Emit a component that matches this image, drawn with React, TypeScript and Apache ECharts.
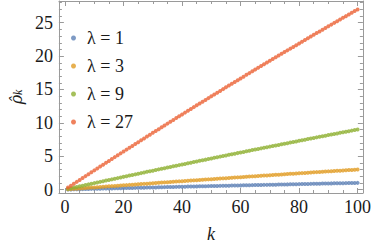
import React, { useEffect, useRef } from "react";
import * as echarts from "echarts";

const seriesNames = ["λ = 1", "λ = 3", "λ = 9", "λ = 27"];
const seriesColors = ["#5E81B5", "#E19C24", "#8FB032", "#EB6235"];

// rho_k for k = 1..100
const lambda1 = [
  0.01, 0.02, 0.03, 0.04, 0.05, 0.06, 0.07, 0.09, 0.10, 0.11,
  0.12, 0.13, 0.14, 0.15, 0.16, 0.17, 0.18, 0.19, 0.20, 0.21,
  0.22, 0.23, 0.24, 0.25, 0.26, 0.27, 0.28, 0.29, 0.30, 0.31,
  0.32, 0.34, 0.35, 0.36, 0.37, 0.38, 0.39, 0.40, 0.41, 0.42,
  0.43, 0.44, 0.45, 0.46, 0.47, 0.48, 0.49, 0.50, 0.51, 0.52,
  0.53, 0.54, 0.55, 0.56, 0.57, 0.58, 0.59, 0.60, 0.61, 0.62,
  0.63, 0.64, 0.65, 0.66, 0.67, 0.68, 0.69, 0.70, 0.70, 0.71,
  0.72, 0.73, 0.74, 0.75, 0.76, 0.77, 0.78, 0.79, 0.80, 0.81,
  0.82, 0.83, 0.84, 0.85, 0.86, 0.87, 0.88, 0.89, 0.90, 0.91,
  0.92, 0.93, 0.93, 0.94, 0.95, 0.96, 0.97, 0.98, 0.99, 1.00,
];
const lambda3 = [
  0.03, 0.06, 0.10, 0.13, 0.16, 0.19, 0.22, 0.26, 0.29, 0.32,
  0.35, 0.38, 0.41, 0.45, 0.48, 0.51, 0.54, 0.57, 0.60, 0.63,
  0.66, 0.70, 0.73, 0.76, 0.79, 0.82, 0.85, 0.88, 0.91, 0.94,
  0.97, 1.01, 1.04, 1.07, 1.10, 1.13, 1.16, 1.19, 1.22, 1.25,
  1.28, 1.31, 1.34, 1.37, 1.40, 1.43, 1.46, 1.49, 1.52, 1.55,
  1.58, 1.61, 1.64, 1.67, 1.70, 1.73, 1.76, 1.79, 1.82, 1.85,
  1.88, 1.91, 1.94, 1.97, 2.00, 2.03, 2.06, 2.09, 2.11, 2.14,
  2.17, 2.20, 2.23, 2.26, 2.29, 2.32, 2.35, 2.38, 2.40, 2.43,
  2.46, 2.49, 2.52, 2.55, 2.58, 2.61, 2.63, 2.66, 2.69, 2.72,
  2.75, 2.78, 2.80, 2.83, 2.86, 2.89, 2.92, 2.94, 2.97, 3.00,
];
const lambda9 = [
  0.10, 0.19, 0.29, 0.38, 0.48, 0.58, 0.67, 0.77, 0.86, 0.96,
  1.05, 1.15, 1.24, 1.34, 1.43, 1.52, 1.62, 1.71, 1.81, 1.90,
  1.99, 2.09, 2.18, 2.27, 2.37, 2.46, 2.55, 2.65, 2.74, 2.83,
  2.92, 3.02, 3.11, 3.20, 3.29, 3.39, 3.48, 3.57, 3.66, 3.75,
  3.84, 3.93, 4.02, 4.12, 4.21, 4.30, 4.39, 4.48, 4.57, 4.66,
  4.75, 4.84, 4.93, 5.02, 5.11, 5.20, 5.28, 5.37, 5.46, 5.55,
  5.64, 5.73, 5.82, 5.91, 5.99, 6.08, 6.17, 6.26, 6.34, 6.43,
  6.52, 6.61, 6.69, 6.78, 6.87, 6.95, 7.04, 7.13, 7.21, 7.30,
  7.39, 7.47, 7.56, 7.64, 7.73, 7.82, 7.90, 7.99, 8.07, 8.16,
  8.24, 8.33, 8.41, 8.50, 8.58, 8.66, 8.75, 8.83, 8.92, 9.00,
];
const lambda27 = [
  0.29, 0.58, 0.87, 1.15, 1.44, 1.73, 2.01, 2.30, 2.58, 2.87,
  3.16, 3.44, 3.72, 4.01, 4.29, 4.57, 4.86, 5.14, 5.42, 5.70,
  5.98, 6.26, 6.54, 6.82, 7.10, 7.38, 7.66, 7.94, 8.22, 8.50,
  8.77, 9.05, 9.33, 9.60, 9.88, 10.16, 10.43, 10.71, 10.98, 11.25,
  11.53, 11.80, 12.07, 12.35, 12.62, 12.89, 13.16, 13.43, 13.70, 13.97,
  14.24, 14.51, 14.78, 15.05, 15.32, 15.59, 15.85, 16.12, 16.39, 16.65,
  16.92, 17.19, 17.45, 17.72, 17.98, 18.24, 18.51, 18.77, 19.03, 19.30,
  19.56, 19.82, 20.08, 20.34, 20.60, 20.86, 21.12, 21.38, 21.64, 21.90,
  22.16, 22.42, 22.68, 22.93, 23.19, 23.45, 23.70, 23.96, 24.22, 24.47,
  24.72, 24.98, 25.23, 25.49, 25.74, 25.99, 26.25, 26.50, 26.75, 27.00,
];
const seriesValues = [lambda1, lambda3, lambda9, lambda27];

const xMajorTicks = [0, 20, 40, 60, 80, 100];
const xMinorTicks = [5, 10, 15, 25, 30, 35, 45, 50, 55, 65, 70, 75, 85, 90, 95];
const yMajorTicks = [0, 5, 10, 15, 20, 25];
const yMinorTicks = [1, 2, 3, 4, 6, 7, 8, 9, 11, 12, 13, 14, 16, 17, 18, 19, 21, 22, 23, 24, 26, 27, 28];

const X_MIN = -2.1;
const X_MAX = 101.8;
const Y_MIN = -0.52;
const Y_MAX = 28.26;

const FONT = "Liberation Serif";
const FRAME = "#9a9a9a";
const TEXT = "#1a1a1a";

export default function App() {
  const ref = useRef<HTMLDivElement>(null);
  useEffect(() => {
    if (!ref.current) return;
    const chart = echarts.init(ref.current, undefined, { renderer: "svg" });

    const xAxisBase = (position: "bottom" | "top", ticks: number[], len: number, showLine: boolean, labels: boolean) => ({
      type: "value",
      gridIndex: 0,
      position,
      min: X_MIN,
      max: X_MAX,
      axisLine: { show: showLine, onZero: false, lineStyle: { color: FRAME, width: 1 } },
      axisTick: { show: true, inside: true, length: len, customValues: ticks, lineStyle: { color: FRAME, width: 1 } },
      axisLabel: labels
        ? { show: true, customValues: ticks, fontFamily: FONT, fontSize: 18, color: TEXT, margin: 5 }
        : { show: false },
      splitLine: { show: false },
    });
    const yAxisBase = (position: "left" | "right", ticks: number[], len: number, showLine: boolean, labels: boolean) => ({
      type: "value",
      gridIndex: 0,
      position,
      min: Y_MIN,
      max: Y_MAX,
      axisLine: { show: showLine, onZero: false, lineStyle: { color: FRAME, width: 1 } },
      axisTick: { show: true, inside: true, length: len, customValues: ticks, lineStyle: { color: FRAME, width: 1 } },
      axisLabel: labels
        ? { show: true, customValues: ticks, fontFamily: FONT, fontSize: 18, color: TEXT, margin: 6 }
        : { show: false },
      splitLine: { show: false },
    });

    const xMain: any = xAxisBase("bottom", xMajorTicks, 5, true, true);
    xMain.name = "k";
    xMain.nameLocation = "middle";
    xMain.nameGap = 32;
    xMain.nameTextStyle = { fontFamily: FONT, fontSize: 18, fontStyle: "italic", color: TEXT };

    const yMain: any = yAxisBase("left", yMajorTicks, 5, true, true);
    yMain.name = "{a|ρ\u0302}{b|k}";
    yMain.nameLocation = "middle";
    yMain.nameRotate = 90;
    yMain.nameGap = 30;
    yMain.nameTextStyle = {
      color: TEXT,
      fontFamily: FONT,
      rich: {
        a: { fontFamily: "DejaVu Serif", fontSize: 16, fontStyle: "italic", color: TEXT, verticalAlign: "bottom", lineHeight: 20 },
        b: { fontFamily: FONT, fontSize: 12, fontStyle: "italic", color: TEXT, verticalAlign: "bottom", lineHeight: 14 },
      },
    };

    chart.setOption({
      animation: false,
      backgroundColor: "#ffffff",
      textStyle: { fontFamily: FONT },
      grid: { left: 52, right: 9, top: 1, bottom: 57, containLabel: false },
      legend: {
        orient: "vertical",
        left: 66,
        top: 24,
        icon: "circle",
        itemWidth: 5,
        itemHeight: 5,
        itemGap: 10,
        data: seriesNames,
        textStyle: { fontFamily: FONT, fontSize: 18, lineHeight: 18, color: TEXT, padding: [0, 0, 0, 6] },
      },
      xAxis: [
        xMain,
        xAxisBase("bottom", xMinorTicks, 3, false, false),
        xAxisBase("top", xMajorTicks, 5, true, false),
        xAxisBase("top", xMinorTicks, 3, false, false),
      ],
      yAxis: [
        yMain,
        yAxisBase("left", yMinorTicks, 3, false, false),
        yAxisBase("right", yMajorTicks, 5, true, false),
        yAxisBase("right", yMinorTicks, 3, false, false),
      ],
      series: seriesValues.map((vals, si) => ({
        type: "scatter",
        name: seriesNames[si],
        xAxisIndex: 0,
        yAxisIndex: 0,
        symbol: "circle",
        symbolSize: 4,
        itemStyle: { color: seriesColors[si] },
        data: vals.map((v, i) => [i + 1, v]),
      })),
    });
    return () => chart.dispose();
  }, []);
  return (
    <div
      ref={ref}
      style={{ position: "fixed", left: 0, top: 0, width: 374, height: 250, background: "#fff" }}
    />
  );
}
